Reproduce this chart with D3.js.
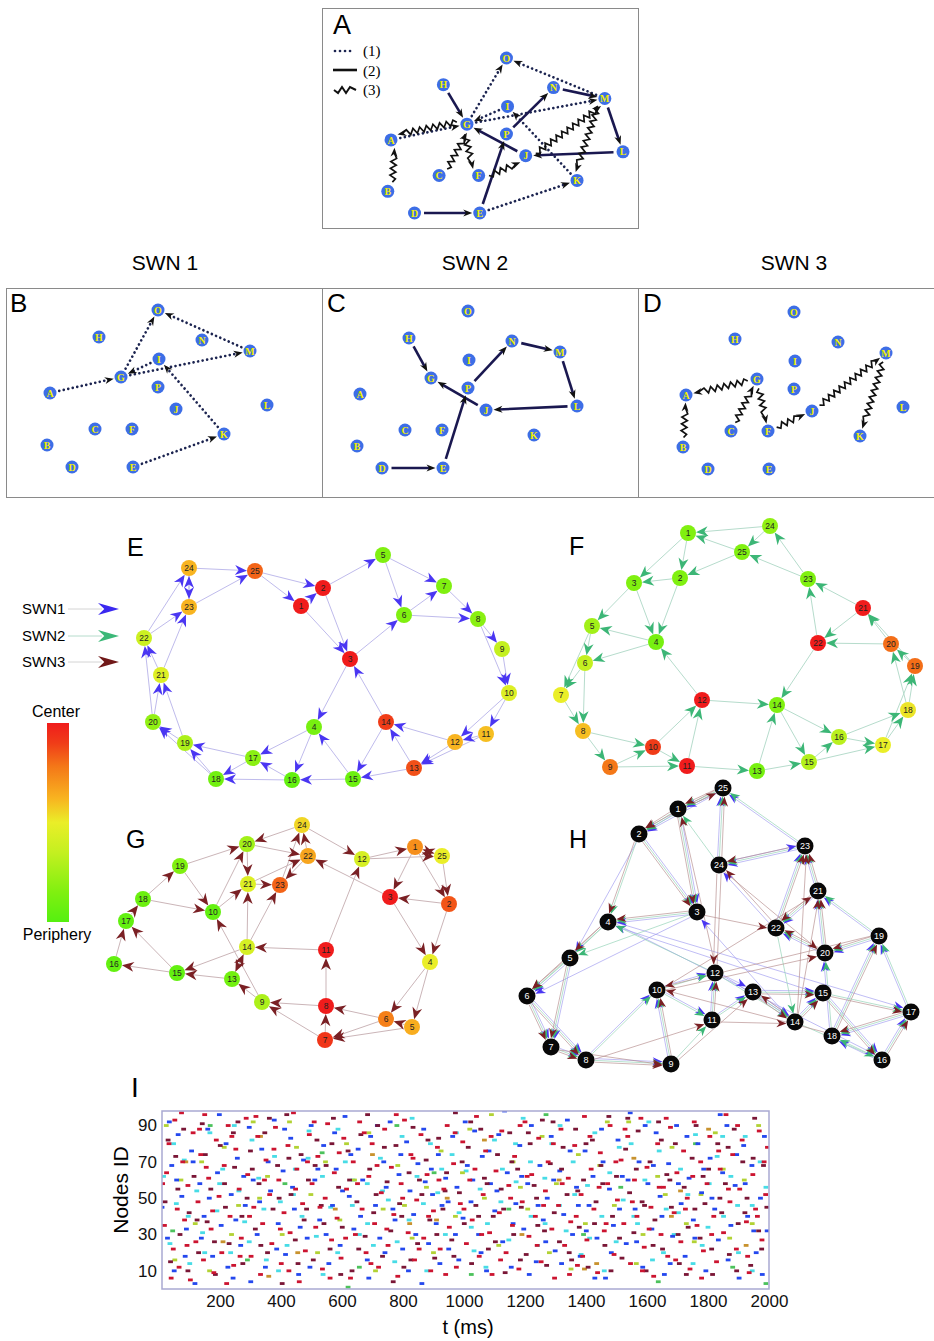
<!DOCTYPE html>
<html>
<head>
<meta charset="utf-8">
<script src="https://cdn.jsdelivr.net/npm/d3@7"></script>
<style>
  body { margin: 0; background: #fff; }
  svg { font-family: "Liberation Sans", Arial, sans-serif; }
</style>
</head>
<body>
<svg id="fig" width="934" height="1341"></svg>
<script>
// ---------- data : toy network (panels A-D) ----------
const toyNames = ['A','B','C','D','E','F','G','H','I','J','K','L','M','N','O','P'];
const toyX = [44, 41, 89, 66, 127, 126, 115, 93, 153, 170, 218, 261, 244, 196, 152, 152];
const toyY = [105, 157, 141, 179, 179, 141, 89, 49, 71, 121, 146, 117, 63, 52, 22, 99];
const edgesSWN1 = [['A','G'],['G','O'],['M','O'],['G','M'],['I','G'],['K','I'],['E','K']];
const edgesSWN2 = [['H','G'],['J','G'],['E','P'],['P','N'],['N','M'],['M','L'],['L','J'],['D','E']];
const edgesSWN3 = [['G','A'],['B','A'],['C','G'],['G','F'],['F','J'],['J','M'],['M','K']];
const swnTitles = ['SWN 1', 'SWN 2', 'SWN 3'];

// ---------- data : 25-node networks (panels E-H), node i = index i-1 ----------
const posE = [[181,76],[203,58],[230,129],[194,197],[263,25],[284,85],[324,56],[358,89],[382,119],[389,163],
  [366,204],[335,212],[294,238],[266,192],[233,249],[172,250],[133,228],[96,249],[65,213],[33,192],
  [41,145],[24,108],[69,77],[69,38],[135,41]];
const posF = [[148,23],[140,68],[94,73],[116,132],[52,116],[45,153],[21,185],[43,221],[70,257],[113,237],
  [147,256],[162,190],[217,261],[237,195],[269,252],[299,227],[343,235],[368,200],[375,156],[351,134],
  [323,98],[278,133],[268,69],[230,16],[202,42]];
const posG = [[315,37],[349,94],[290,87],[330,152],[312,217],[286,209],[225,230],[226,196],[162,192],[113,102],
  [226,140],[262,49],[132,169],[147,137],[77,163],[14,154],[26,111],[43,89],[80,56],[147,34],
  [148,74],[208,46],[180,75],[202,15],[342,46]];
const posH = [[188,34],[149,59],[207,137],[118,147],[80,183],[37,221],[61,272],[96,285],[181,289],[167,215],
  [222,245],[225,198],[263,217],[305,247],[333,218],[392,285],[421,237],[342,261],[389,161],[335,178],
  [328,116],[286,153],[315,71],[229,90],[233,13]];

// centrality 0 = periphery, 1 = center
const centE = [1.0,1.0,1.0,0.12,0.15,0.15,0.15,0.18,0.35,0.45,0.6,0.62,0.86,0.9,0.08,0.05,0.18,0.1,0.28,0.2,0.45,0.38,0.62,0.62,0.82];
const centF = [0.15,0.15,0.15,0.12,0.25,0.35,0.5,0.6,0.78,0.9,1.0,1.0,0.12,0.15,0.3,0.32,0.5,0.52,0.8,0.8,1.0,1.0,0.15,0.2,0.15];
const centG = [0.72,0.85,1.0,0.5,0.64,0.76,0.92,1.0,0.28,0.05,1.0,0.42,0.1,0.42,0.05,0.05,0.05,0.08,0.15,0.25,0.45,0.66,0.82,0.55,0.5];

const edgesE = [[24,23],[23,24],[24,25],[23,25],[25,2],[25,1],[1,2],[2,5],[2,3],[1,3],[5,7],[5,6],[6,7],[6,8],[7,8],
  [3,6],[8,9],[8,10],[9,10],[10,11],[10,12],[11,12],[12,13],[11,13],[12,14],[13,14],[14,3],[14,15],[13,15],[15,4],
  [3,4],[4,17],[4,16],[15,16],[16,17],[16,18],[17,18],[17,19],[18,19],[19,20],[18,20],[20,21],[19,21],[20,22],
  [21,22],[21,23],[22,23],[22,24]];
const edgesF = [[24,1],[25,1],[24,25],[23,25],[23,24],[25,2],[1,2],[1,3],[2,3],[3,5],[3,4],[2,4],[4,5],[4,6],[5,6],
  [5,7],[6,7],[6,8],[7,8],[8,9],[8,10],[9,10],[9,11],[10,11],[10,12],[11,12],[12,4],[12,14],[11,13],[13,14],
  [13,15],[14,15],[14,16],[15,16],[15,17],[16,17],[16,18],[17,18],[17,19],[18,19],[18,20],[19,20],[20,21],
  [19,21],[20,22],[21,22],[21,23],[22,23],[22,14]];
const edgesG = [[24,20],[24,12],[22,24],[23,24],[20,22],[21,22],[22,23],[21,23],[20,21],[19,20],[10,20],[10,21],
  [14,21],[18,19],[19,10],[18,10],[17,18],[16,17],[15,17],[14,15],[15,16],[13,15],[14,13],[13,14],[9,13],[9,10],
  [8,9],[7,9],[7,8],[8,11],[11,14],[11,12],[3,22],[12,1],[12,25],[25,1],[1,25],[1,3],[1,2],[25,2],[2,3],[3,4],
  [2,4],[4,6],[4,5],[5,6],[6,8],[6,7],[5,7],[14,23]];

// ---------- data : raster (panel I), [t (ms), node id] ----------
const spikesRed = [[18,35],[25,64],[33,80],[47,22],[52,93],[60,44],[66,12],[78,70],[84,38],[95,57],[103,5],[112,86],[121,26],
  [128,48],[137,74],[146,16],[150,96],[163,61],[171,33],[180,9],[188,82],[197,51],[206,20],[214,68],[227,90],[233,40],
  [245,13],[252,77],[263,55],[270,28],[286,94],[291,63],[302,18],[311,45],[324,84],[333,8],[340,36],[351,71],[363,52],
  [370,25],[382,89],[393,60],[401,14],[410,42],[423,79],[430,31],[441,97],[452,66],[460,4],[471,47],[480,21],[493,85],
  [502,58],[514,34],[521,73],[536,11],[545,50],[553,91],[566,27],[575,64],[584,39],[597,17],[606,83],[615,55],[628,6],
  [637,70],[644,30],[658,92],[666,44],[679,20],[688,62],[699,80],[707,36],[720,12],[729,53],[740,88],[751,24],[762,67],
  [770,41],[783,7],[794,58],[805,93],[817,31],[826,74],[838,16],[845,49],[859,85],[868,28],[879,63],[891,10],[900,43],
  [913,78],[922,22],[934,55],[945,90],[952,34],[966,69],[975,12],[988,47],[996,81],[1008,25],[1019,60],[1027,38],
  [1041,95],[1050,18],[1063,52],[1071,76],[1084,31],[1092,8],[1105,65],[1116,42],[1124,87],[1138,20],[1147,57],
  [1159,35],[1166,73],[1180,11],[1191,48],[1200,92],[1213,29],[1222,63],[1234,40],[1245,83],[1253,15],[1267,54],
  [1276,70],[1288,33],[1297,6],[1310,46],[1318,88],[1330,24],[1342,61],[1350,37],[1363,79],[1372,13],[1384,52],
  [1395,95],[1403,27],[1417,66],[1426,44],[1438,9],[1447,75],[1460,32],[1471,58],[1479,90],[1492,19],[1503,49],
  [1515,71],[1524,36],[1537,84],[1546,14],[1559,60],[1567,40],[1580,94],[1591,23],[1600,67],[1613,45],[1622,7],
  [1635,80],[1646,30],[1654,56],[1668,18],[1677,89],[1689,42],[1698,64],[1711,26],[1720,76],[1732,50],[1741,11],
  [1755,92],[1764,35],[1776,70],[1785,21],[1797,58],[1806,84],[1819,40],[1828,15],[1840,66],[1851,31],[1859,96],
  [1872,48],[1881,74],[1893,22],[1904,55],[1912,82],[1926,37],[1935,9],[1947,63],[1956,44],[1968,87],[1977,27],
  [1989,52],[1995,78],
  [12,58],[40,6],[74,97],[92,24],[133,88],[155,67],[176,43],[222,3],[239,84],[266,18],[297,40],[318,95],[346,60],
  [377,77],[398,33],[426,10],[448,55],[487,70],[509,92],[528,45],[561,6],[591,75],[612,28],[651,58],[673,86],[695,14],
  [715,68],[747,33],[778,96],[799,50],[833,72],[853,22],[884,40],[918,60],[940,8],[971,86],[1000,44],[1036,66],
  [1058,30],[1089,84],[1120,16],[1153,50],[1184,90],[1207,62],[1240,24],[1261,46],[1293,80],[1322,58],[1346,8],
  [1368,40],[1389,18],[1413,84],[1443,56],[1466,36],[1498,70],[1528,88],[1552,48],[1585,10],[1607,33],[1640,56],
  [1663,94],[1694,16],[1726,44],[1750,62],[1779,6],[1812,30],[1835,76],[1867,55],[1897,90],[1930,18],[1962,40],[1984,70]];
const spikesMaroon = [[20,48],[38,15],[55,73],[69,30],[81,88],[99,42],[115,62],[130,20],[142,91],[158,37],[170,55],[185,8],
  [201,79],[218,45],[230,25],[248,67],[259,92],[275,14],[289,50],[300,76],[316,33],[328,58],[347,86],[356,20],[374,44],
  [389,68],[404,3],[419,96],[433,52],[447,27],[466,74],[476,38],[490,60],[506,16],[518,82],[532,46],[548,68],[561,22],
  [572,94],[589,56],[601,34],[620,76],[633,10],[649,48],[662,85],[676,29],[691,66],[704,42],[717,90],[733,18],[748,59],
  [760,32],[777,79],[789,47],[803,12],[820,64],[833,89],[848,25],[862,52],[876,71],[888,38],[904,17],[917,83],[931,44],
  [943,64],[960,27],[972,97],[985,53],[1001,36],[1014,78],[1025,14],[1039,46],[1055,88],[1067,61],[1080,22],[1096,40],
  [1110,74],[1122,55],[1135,9],[1150,86],[1163,30],[1176,66],[1188,45],[1204,19],[1217,80],[1230,57],[1242,35],
  [1257,93],[1271,13],[1283,69],[1296,42],[1313,26],[1325,78],[1338,52],[1353,16],[1366,88],[1378,34],[1392,60],
  [1407,12],[1421,82],[1433,48],[1449,68],[1462,24],[1475,95],[1487,40],[1500,62],[1518,17],[1530,77],[1543,53],
  [1557,31],[1571,87],[1584,48],[1597,10],[1610,70],[1626,38],[1638,92],[1651,22],[1665,63],[1680,45],[1693,80],
  [1706,14],[1722,56],[1735,34],[1748,72],[1761,90],[1774,28],[1790,47],[1802,66],[1815,8],[1832,80],[1845,42],
  [1857,58],[1870,19],[1886,88],[1899,36],[1914,70],[1928,50],[1940,13],[1953,94],[1966,32],[1982,68],[1993,45],
  [30,82],[62,55],[95,10],[125,38],[152,74],[182,26],[215,58],[244,86],[272,40],[306,66],[334,24],[362,94],[394,50],
  [426,72],[456,14],[484,44],[512,68],[541,36],[567,80],[596,8],[625,60],[655,22],[684,96],[712,52],[739,78],[768,4],
  [796,40],[826,16],[854,60],[882,82],[911,30],[938,54],[967,18],[994,70],[1022,92],[1048,40],[1076,58],[1103,26],
  [1130,44],[1157,70],[1185,16],[1211,86],[1238,50],[1264,32],[1292,92],[1320,66],[1345,20],[1373,54],[1400,80],
  [1428,36],[1455,58],[1482,10],[1510,28],[1537,94],[1565,66],[1592,46],[1620,24],[1647,82],[1675,60],[1702,30],
  [1729,8],[1757,44],[1784,62],[1812,22],[1839,50],[1866,78],[1894,10],[1921,42],[1948,72],[1976,22]];
const spikesBlue = [[28,28],[42,68],[50,10],[63,85],[75,51],[90,33],[107,76],[118,3],[134,58],[148,40],[160,88],[176,18],
  [192,64],[204,35],[220,80],[237,52],[243,6],[257,72],[268,24],[283,46],[296,89],[309,60],[322,30],[337,77],[349,12],
  [366,54],[378,93],[391,36],[407,65],[415,19],[432,83],[444,44],[458,8],[474,71],[486,28],[499,90],[511,60],[527,38],
  [540,79],[557,14],[569,46],[581,66],[594,24],[610,95],[624,51],[639,33],[653,77],[668,60],[683,16],[694,84],[710,46],
  [724,28],[737,70],[745,56],[758,92],[774,38],[787,63],[799,22],[812,81],[823,54],[835,41],[849,69],[862,3],[873,59],
  [884,25],[897,52],[909,36],[916,74],[928,46],[940,61],[950,22],[963,84],[977,56],[983,16],[997,39],[1011,68],
  [1023,48],[1035,87],[1048,30],[1060,73],[1074,10],[1087,58],[1101,43],[1114,85],[1127,26],[1142,64],[1155,12],
  [1170,47],[1183,79],[1196,33],[1209,58],[1221,90],[1237,15],[1249,68],[1260,38],[1273,50],[1286,84],[1299,21],
  [1314,65],[1327,41],[1339,93],[1356,30],[1369,56],[1381,18],[1397,76],[1410,46],[1423,62],[1436,28],[1451,88],
  [1464,6],[1477,55],[1490,35],[1505,82],[1519,62],[1532,25],[1545,97],[1561,44],[1574,70],[1586,12],[1603,58],
  [1616,33],[1630,86],[1643,51],[1657,8],[1671,69],[1684,29],[1697,90],[1712,47],[1725,18],[1738,61],[1752,38],
  [1767,80],[1779,53],[1793,10],[1807,72],[1822,44],[1834,27],[1848,64],[1862,90],[1875,35],[1889,57],[1902,6],
  [1917,79],[1930,40],[1944,68],[1958,20],[1972,50],[1985,84],[1994,32],
  [10,45],[34,92],[58,60],[86,18],[112,70],[139,28],[165,50],[198,96],[226,12],[252,38],[278,62],[301,4],[330,48],
  [358,70],[386,22],[412,88],[438,56],[463,34],[495,12],[521,66],[548,30],[576,86],[602,54],[629,74],[661,40],[688,6],
  [716,90],[741,20],[767,44],[793,74],[818,10],[842,30],[868,88],[893,66],[921,14],[948,48],[972,30],[1004,92],
  [1029,60],[1056,20],[1082,76],[1108,54],[1133,98],[1161,36],[1189,62],[1214,8],[1243,46],[1268,26],[1294,60],
  [1320,14],[1348,76],[1375,46],[1401,32],[1429,6],[1456,70],[1483,20],[1510,44],[1538,60],[1566,26],[1594,90],
  [1621,68],[1649,40],[1676,14],[1703,58],[1731,84],[1757,28],[1786,66],[1813,50],[1840,96],[1866,16],[1894,74],
  [1922,58],[1950,32],[1978,8]];
const spikesCyan = [[15,62],[36,25],[57,47],[83,71],[101,14],[124,54],[143,31],[167,86],[190,43],[209,66],[235,20],[262,54],
  [281,37],[305,82],[327,61],[352,16],[379,73],[398,48],[420,24],[447,66],[469,40],[492,87],[516,29],[536,62],[563,45],
  [586,20],[611,70],[634,46],[657,30],[683,58],[703,24],[726,72],[752,49],[773,15],[797,84],[820,38],[846,62],[867,47],
  [890,80],[914,53],[939,30],[961,74],[984,42],[1007,65],[1033,21],[1053,55],[1077,36],[1100,82],[1126,66],[1147,27],
  [1171,59],[1194,94],[1220,40],[1241,24],[1265,61],[1288,80],[1313,46],[1335,32],[1358,70],[1384,19],[1405,57],
  [1429,86],[1452,40],[1478,64],[1499,26],[1522,49],[1548,80],[1569,36],[1593,60],[1618,16],[1640,76],[1663,44],
  [1689,30],[1710,66],[1734,52],[1759,85],[1781,24],[1804,58],[1830,73],[1851,40],[1875,62],[1900,20],[1922,84],
  [1945,46],[1971,70],[1990,56],
  [48,80],[96,40],[150,20],[199,58],[247,90],[296,26],[344,44],[392,10],[441,52],[489,72],[538,8],[587,88],[636,60],
  [684,36],[733,54],[781,26],[830,94],[878,10],[927,66],[975,86],[1024,34],[1072,12],[1121,48],[1169,80],[1218,70],
  [1266,36],[1315,90],[1363,52],[1412,28],[1460,10],[1509,78],[1557,40],[1606,92],[1654,20],[1703,42],[1751,14],
  [1800,34],[1848,84],[1897,46],[1945,10]];
const spikesLime = [[24,90],[72,60],[119,36],[166,10],[214,78],[261,46],[309,92],[356,62],[404,30],[451,78],[498,52],
  [546,70],[593,38],[641,60],[688,86],[735,44],[783,68],[830,28],[877,56],[925,76],[972,40],[1019,88],[1067,50],
  [1114,24],[1161,70],[1209,44],[1256,84],[1303,58],[1351,11],[1398,36],[1445,68],[1493,46],[1540,92],[1587,30],
  [1635,62],[1682,78],[1729,36],[1777,52],[1824,86],[1871,28],[1919,60],[1966,90],
  [52,16],[140,70],[238,30],[330,50],[428,92],[520,20],[615,80],[710,10],[805,46],[900,20],[995,64],[1090,96],
  [1185,56],[1280,20],[1375,74],[1470,92],[1565,14],[1660,52],[1755,26],[1850,66],[1945,36]];
const spikesOrange = [[88,70],[210,26],[333,84],[360,7],[455,20],[578,44],[700,74],[822,36],[910,38],[945,50],[1067,82],
  [1190,30],[1312,60],[1395,11],[1435,14],[1557,72],[1680,40],[1710,54],[1802,88],[1925,24]];
const spikesGreen = [[45,32],[168,90],[290,16],[413,58],[535,75],[620,1],[657,12],[780,90],[902,64],[1024,8],[1147,44],
  [1269,96],[1392,30],[1514,56],[1637,4],[1759,80],[1881,12],[1990,3]];
const xTicks = [200, 400, 600, 800, 1000, 1200, 1400, 1600, 1800, 2000];
const yTicks = [10, 30, 50, 70, 90];

// ---------- helpers ----------
const svg = d3.select('#fig');

function dart(x, y, ang, len, wid) {
  const c = Math.cos(ang), s = Math.sin(ang);
  const pts = [[0, 0], [-len, wid / 2], [-len * 0.7, 0], [-len, -wid / 2]];
  return 'M' + pts.map(([px, py]) => [x + px * c - py * s, y + px * s + py * c].join(',')).join('L') + 'Z';
}

function zigzag(x1, y1, x2, y2, amp, step) {
  const L = Math.hypot(x2 - x1, y2 - y1), ux = (x2 - x1) / L, uy = (y2 - y1) / L;
  const pts = [[x1, y1]];
  const n = Math.floor((L - 4) / step);
  for (let i = 1; i <= n; i++) {
    const o = i % 2 ? amp : -amp;
    pts.push([x1 + ux * i * step - uy * o, y1 + uy * i * step + ux * o]);
  }
  pts.push([x2, y2]);
  return d3.line()(pts);
}

const centColor = d3.scaleLinear()
  .domain([0, 0.15, 0.35, 0.5, 0.62, 0.78, 0.9, 1])
  .range(['#55f010', '#80f010', '#c4f020', '#eaee28', '#f8b420', '#f47818', '#f03c18', '#f01c1c']);

// ---------- panels A-D ----------
const toyR = 6.5;
function drawToy(sx, sy, sets, wavyShift) {
  const g = svg.append('g');
  const pos = name => { const i = toyNames.indexOf(name); return [sx(toyX[i]), sy(toyY[i])]; };
  sets.forEach(({ edges, kind }) => {
    edges.forEach(([a, b]) => {
      const [x1, y1] = pos(a), [x2, y2] = pos(b);
      const L = Math.hypot(x2 - x1, y2 - y1), ux = (x2 - x1) / L, uy = (y2 - y1) / L;
      const sh = kind === 'wavy' ? wavyShift : 0;
      const nx = -uy * sh, ny = ux * sh;
      const ax = x1 + ux * (toyR + 3) + nx, ay = y1 + uy * (toyR + 3) + ny;
      const tx = x2 - ux * (toyR + 1) + nx, ty = y2 - uy * (toyR + 1) + ny;
      const ex = tx - ux * 5, ey = ty - uy * 5;
      if (kind === 'dotted') {
        g.append('line').attr('x1', ax).attr('y1', ay).attr('x2', ex).attr('y2', ey)
          .attr('stroke', '#1c2450').attr('stroke-width', 2.7).attr('stroke-linecap', 'round')
          .attr('stroke-dasharray', '0.01 4.6');
      } else if (kind === 'solid') {
        g.append('line').attr('x1', ax).attr('y1', ay).attr('x2', ex).attr('y2', ey)
          .attr('stroke', '#1a1850').attr('stroke-width', 2.6);
      } else {
        g.append('path').attr('d', zigzag(ax, ay, ex, ey, 2.8, 3.4))
          .attr('fill', 'none').attr('stroke', '#111').attr('stroke-width', 1.7);
      }
      g.append('path').attr('d', dart(tx, ty, Math.atan2(uy, ux), 9, 7)).attr('fill', '#111');
    });
  });
  const nodes = g.selectAll('g.n').data(toyNames).join('g')
    .attr('transform', (d, i) => `translate(${sx(toyX[i])},${sy(toyY[i])})`);
  nodes.append('circle').attr('r', toyR).attr('fill', '#3d6ee6');
  nodes.append('text').text(d => d).attr('text-anchor', 'middle').attr('dy', '0.36em')
    .attr('font-family', '"Liberation Serif", "Times New Roman", serif').attr('font-weight', 'bold')
    .attr('font-size', 10).attr('fill', '#f2f000');
}

const allSets = [
  { edges: edgesSWN1, kind: 'dotted' },
  { edges: edgesSWN2, kind: 'solid' },
  { edges: edgesSWN3, kind: 'wavy' }
];

// panel A frame + legend
svg.append('rect').attr('x', 322.5).attr('y', 8.5).attr('width', 316).attr('height', 220)
  .attr('fill', 'none').attr('stroke', '#8a8a8a');
svg.append('text').attr('x', 333).attr('y', 34).attr('font-size', 27).text('A');
const legA = svg.append('g').attr('font-family', '"Liberation Serif", "Times New Roman", serif').attr('font-size', 15);
legA.append('line').attr('x1', 335).attr('x2', 355).attr('y1', 51).attr('y2', 51)
  .attr('stroke', '#1c2450').attr('stroke-width', 2.7).attr('stroke-linecap', 'round').attr('stroke-dasharray', '0.01 5');
legA.append('line').attr('x1', 333).attr('x2', 357).attr('y1', 70).attr('y2', 70)
  .attr('stroke', '#111').attr('stroke-width', 2.6);
legA.append('path').attr('d', zigzag(334, 90, 356, 90, 3, 4)).attr('fill', 'none').attr('stroke', '#111').attr('stroke-width', 2);
['(1)', '(2)', '(3)'].forEach((t, i) => legA.append('text').attr('x', 363).attr('y', [56, 76, 95][i]).text(t));

drawToy(d3.scaleLinear().domain([44, 261]).range([391, 623]),
        d3.scaleLinear().domain([22, 179]).range([58, 213]), allSets, 4);

// SWN titles
swnTitles.forEach((t, i) => svg.append('text').attr('x', [165, 475, 794][i]).attr('y', 270)
  .attr('text-anchor', 'middle').attr('font-size', 21).text(t));

// panels B C D frame
const fr = svg.append('g').attr('stroke', '#8a8a8a').attr('fill', 'none');
fr.append('line').attr('x1', 6).attr('x2', 934).attr('y1', 288.5).attr('y2', 288.5);
fr.append('line').attr('x1', 6).attr('x2', 934).attr('y1', 497.5).attr('y2', 497.5);
[6.5, 322.5, 638.5].forEach(x => fr.append('line').attr('x1', x).attr('x2', x).attr('y1', 288).attr('y2', 498));
['B', 'C', 'D'].forEach((t, i) => svg.append('text').attr('x', [10, 327, 643][i]).attr('y', 312)
  .attr('font-size', 26).text(t));

const offs = [[6, 288], [316, 289], [642, 290]];
[edgesSWN1, edgesSWN2, edgesSWN3].forEach((edges, i) => {
  const [ox, oy] = offs[i];
  drawToy(d3.scaleLinear().domain([0, 300]).range([ox, ox + 300]),
          d3.scaleLinear().domain([0, 200]).range([oy, oy + 200]),
          [allSets[i]], 0);
});

// ---------- panels E-H ----------
function drawNet(origin, pos, edges, cent, arrowCol, lineCol, label, labelPos) {
  const sx = d3.scaleLinear().domain([0, 400]).range([origin[0], origin[0] + 400]);
  const sy = d3.scaleLinear().domain([0, 300]).range([origin[1], origin[1] + 300]);
  const r = 8;
  const g = svg.append('g');
  const lines = g.append('g'), heads = g.append('g');
  edges.forEach(([s, t]) => {
    const x1 = sx(pos[s - 1][0]), y1 = sy(pos[s - 1][1]), x2 = sx(pos[t - 1][0]), y2 = sy(pos[t - 1][1]);
    const L = Math.hypot(x2 - x1, y2 - y1), ux = (x2 - x1) / L, uy = (y2 - y1) / L;
    const tx = x2 - ux * r, ty = y2 - uy * r;
    lines.append('line').attr('x1', x1 + ux * r).attr('y1', y1 + uy * r)
      .attr('x2', tx - ux * 6).attr('y2', ty - uy * 6)
      .attr('stroke', lineCol).attr('stroke-width', 1);
    heads.append('path').attr('d', dart(tx, ty, Math.atan2(uy, ux), 12, 10)).attr('fill', arrowCol);
  });
  const nodes = g.selectAll('g.n').data(pos).join('g')
    .attr('transform', d => `translate(${sx(d[0])},${sy(d[1])})`);
  nodes.append('circle').attr('r', r).attr('fill', (d, i) => centColor(cent[i]));
  nodes.append('text').text((d, i) => i + 1).attr('text-anchor', 'middle').attr('dy', '0.35em')
    .attr('font-size', 8.5).attr('fill', '#222');
  svg.append('text').attr('x', labelPos[0]).attr('y', labelPos[1]).attr('font-size', 25).text(label);
}

drawNet([120, 530], posE, edgesE, centE, '#4a36f2', '#bfbbec', 'E', [127, 556]);
drawNet([540, 510], posF, edgesF, centF, '#3cb676', '#b6dccc', 'F', [569, 555]);
drawNet([100, 810], posG, edgesG, centG, '#7a2024', '#cbb5b8', 'G', [126, 848]);

// panel H : all three networks on the same node set
(function () {
  const origin = [490, 775];
  const sx = d3.scaleLinear().domain([0, 440]).range([origin[0], origin[0] + 440]);
  const sy = d3.scaleLinear().domain([0, 300]).range([origin[1], origin[1] + 300]);
  const r = 8.5;
  const g = svg.append('g');
  const lines = g.append('g'), heads = g.append('g');
  const sets = [
    { edges: edgesE, arrow: '#4a36f2', line: '#9d99f0', off: -1.8 },
    { edges: edgesF, arrow: '#3cb676', line: '#8ed0b4', off: 0 },
    { edges: edgesG, arrow: '#7a2024', line: '#b48a8a', off: 1.8 }
  ];
  sets.forEach(set => {
    set.edges.forEach(([s, t]) => {
      const x1 = sx(posH[s - 1][0]), y1 = sy(posH[s - 1][1]), x2 = sx(posH[t - 1][0]), y2 = sy(posH[t - 1][1]);
      const L = Math.hypot(x2 - x1, y2 - y1), ux = (x2 - x1) / L, uy = (y2 - y1) / L;
      const nx = -uy * set.off, ny = ux * set.off;
      const tx = x2 - ux * r + nx, ty = y2 - uy * r + ny;
      lines.append('line').attr('x1', x1 + ux * r + nx).attr('y1', y1 + uy * r + ny)
        .attr('x2', tx - ux * 5).attr('y2', ty - uy * 5)
        .attr('stroke', set.line).attr('stroke-width', 0.65);
      heads.append('path').attr('d', dart(tx, ty, Math.atan2(uy, ux), 10, 8)).attr('fill', set.arrow);
    });
  });
  const nodes = g.selectAll('g.n').data(posH).join('g')
    .attr('transform', d => `translate(${sx(d[0])},${sy(d[1])})`);
  nodes.append('circle').attr('r', r).attr('fill', '#080808');
  nodes.append('text').text((d, i) => i + 1).attr('text-anchor', 'middle').attr('dy', '0.35em')
    .attr('font-size', 9).attr('fill', '#fff');
  svg.append('text').attr('x', 569).attr('y', 848).attr('font-size', 25).text('H');
})();

// legend SWN1-3
const legCols = ['#3a28f0', '#3cb878', '#701818'];
swnTitles.forEach((t, i) => {
  const y = [609, 636, 662][i];
  svg.append('text').attr('x', 22).attr('y', y + 5).attr('font-size', 15).text(t.replace(' ', ''));
  svg.append('line').attr('x1', 68).attr('x2', 102).attr('y1', y).attr('y2', y)
    .attr('stroke', i === 1 ? '#b6dccc' : '#d4d4d4').attr('stroke-width', 1);
  svg.append('path').attr('d', dart(119, y, 0, 21, 12)).attr('fill', legCols[i]);
});

// colour bar
const grad = svg.append('defs').append('linearGradient').attr('id', 'cbar')
  .attr('x1', 0).attr('y1', 1).attr('x2', 0).attr('y2', 0);
centColor.domain().forEach((v, i) => grad.append('stop').attr('offset', v).attr('stop-color', centColor.range()[i]));
svg.append('rect').attr('x', 47).attr('y', 723).attr('width', 22).attr('height', 199).attr('fill', 'url(#cbar)');
svg.append('text').attr('x', 56).attr('y', 717).attr('text-anchor', 'middle').attr('font-size', 16).text('Center');
svg.append('text').attr('x', 57).attr('y', 940).attr('text-anchor', 'middle').attr('font-size', 16).text('Periphery');

// ---------- panel I : raster ----------
const rx = d3.scaleLinear().domain([10, 2000]).range([162, 769]);
const ry = d3.scaleLinear().domain([0, 98]).range([1289, 1111]);
svg.append('defs').append('clipPath').attr('id', 'rclip').append('rect')
  .attr('x', 162).attr('y', 1111).attr('width', 607).attr('height', 178);
const rg = svg.append('g').attr('clip-path', 'url(#rclip)');
const spikeSets = [
  [spikesCyan, '#48dce6'], [spikesLime, '#b2d234'], [spikesGreen, '#4cc25c'], [spikesOrange, '#c8922e'],
  [spikesBlue, '#2448ee'], [spikesMaroon, '#7a1636'], [spikesRed, '#cc1430']
];
spikeSets.forEach(([data, col]) => {
  rg.selectAll(null).data(data).join('rect')
    .attr('x', d => rx(d[0]) - 2.4).attr('y', d => ry(d[1]) - 1.4)
    .attr('width', 4.8).attr('height', 2.8).attr('fill', col);
});
svg.append('rect').attr('x', 162).attr('y', 1111).attr('width', 607).attr('height', 178)
  .attr('fill', 'none').attr('stroke', '#a9a9d2').attr('stroke-width', 1.5);

const xa = svg.append('g').attr('transform', 'translate(0,1289)')
  .call(d3.axisBottom(rx).tickValues(xTicks).tickFormat(d3.format('d')).tickSize(0).tickPadding(6));
xa.select('.domain').remove();
xa.selectAll('text').attr('font-size', 17).attr('font-family', '"Liberation Sans", Arial, sans-serif').attr('fill', '#111');
const ya = svg.append('g').attr('transform', 'translate(162,0)')
  .call(d3.axisLeft(ry).tickValues(yTicks).tickFormat(d3.format('d')).tickSize(0).tickPadding(5));
ya.select('.domain').remove();
ya.selectAll('text').attr('font-size', 17).attr('font-family', '"Liberation Sans", Arial, sans-serif').attr('fill', '#111');

svg.append('text').attr('transform', 'translate(128,1190) rotate(-90)').attr('text-anchor', 'middle')
  .attr('font-size', 21).text('Nodes ID');
svg.append('text').attr('x', 468).attr('y', 1334).attr('text-anchor', 'middle').attr('font-size', 20).text('t (ms)');
svg.append('text').attr('x', 131).attr('y', 1097).attr('font-size', 28).text('I');
</script>
</body>
</html>
